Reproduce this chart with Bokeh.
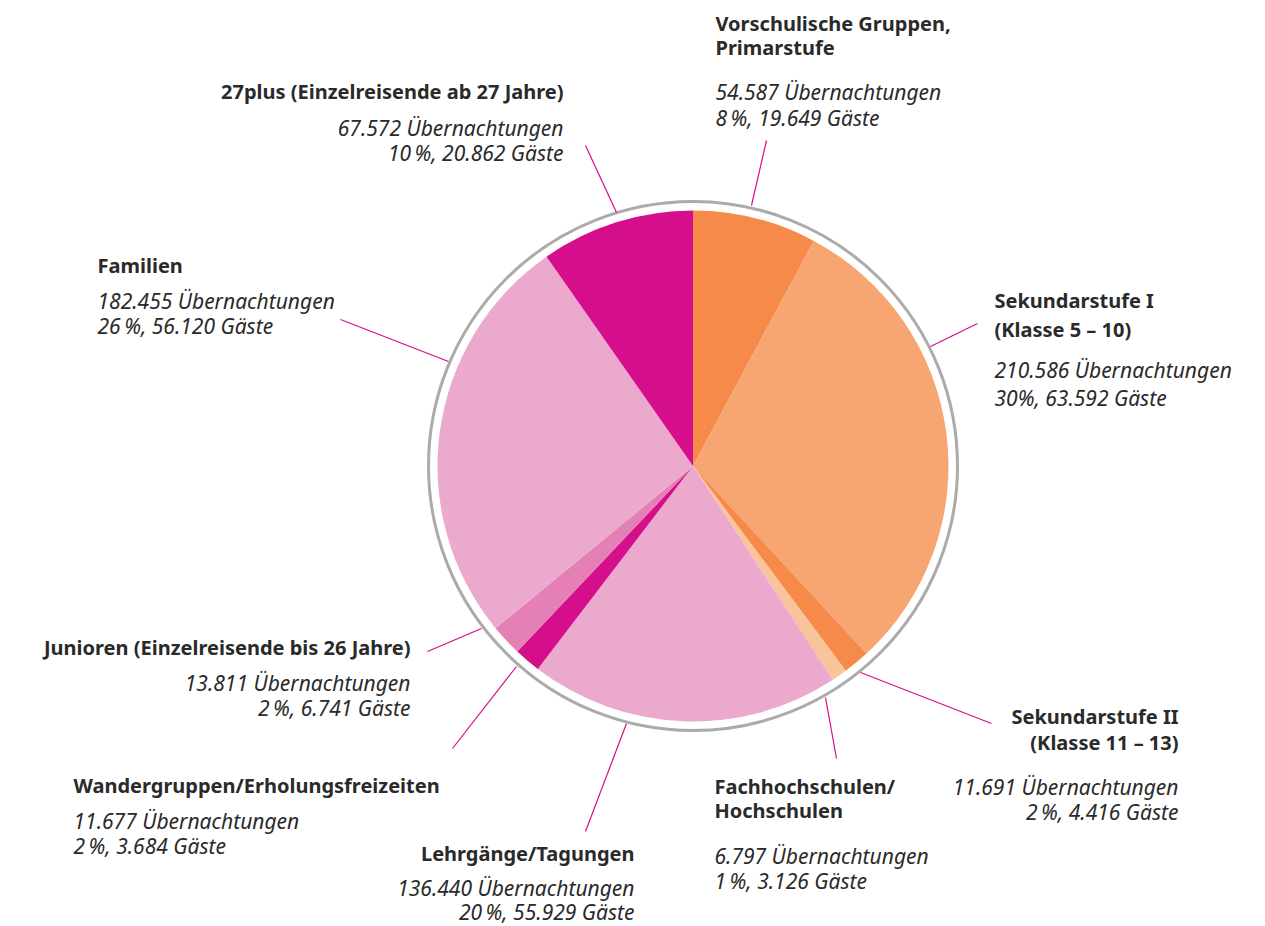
from bokeh.plotting import figure
from bokeh.models import Range1d
from bokeh.core.properties import value
from bokeh.embed import file_html
from bokeh.resources import INLINE
import math

# ---- data (clockwise from 12 o'clock) ----
names = ["Vorschulische Gruppen,\nPrimarstufe",
         "Sekundarstufe I\n(Klasse 5 \u2013 10)",
         "Sekundarstufe II\n(Klasse 11 \u2013 13)",
         "Fachhochschulen/\nHochschulen",
         "Lehrg\u00e4nge/Tagungen",
         "Wandergruppen/Erholungsfreizeiten",
         "Junioren (Einzelreisende bis 26 Jahre)",
         "Familien",
         "27plus (Einzelreisende ab 27 Jahre)"]
nights = [54587, 210586, 11691, 6797, 136440, 11677, 13811, 182455, 67572]
percent_labels = ["8\u2009%", "30%", "2\u2009%", "1\u2009%", "20\u2009%", "2\u2009%", "2\u2009%", "26\u2009%", "10\u2009%"]
guests = [19649, 63592, 4416, 3126, 55929, 3684, 6741, 56120, 20862]

# ---- styling / layout (pixel coordinates, y from top) ----
colors = ["#F58A4A", "#F7A571", "#F58A4A", "#F9C39C", "#EBAACD",
          "#D50E8C", "#E480B5", "#EBAACD", "#D50E8C"]
W, H = 1265, 926
CX, CY, R, RING_R = 692.5, 465.5, 255.5, 264.5
# label anchors: (x, align, [bold line centres], [italic line centres])
label_layout = [
    (715, "left", [23, 47], [91, 117]),
    (994, "left", [300, 329], [369, 397]),
    (1178, "right", [716, 742], [786, 811]),
    (714, "left", [786, 810], [855, 880]),
    (634, "right", [853], [887, 911]),
    (73, "left", [785], [820, 845]),
    (410, "right", [647], [682, 707]),
    (97, "left", [265], [300, 325]),
    (563, "right", [91], [127, 152]),
]
leaders = [
    ((751, 205), (766, 140)),
    ((930, 346), (977, 323)),
    ((860, 672), (991, 723)),
    ((825, 697), (836, 758)),
    ((626, 723), (585, 831)),
    ((516, 666), (452, 748)),
    ((481, 628), (427, 651)),
    ((448, 361), (340, 319)),
    ((616, 212), (585, 145)),
]

def fy(py):
    return H - py

def de(n):
    return f"{n:,}".replace(",", ".")

p = figure(width=W, height=H, output_backend="svg", toolbar_location=None,
           x_range=Range1d(0, W), y_range=Range1d(0, H), min_border=0)
p.axis.visible = False
p.grid.visible = False
p.outline_line_color = None

total = sum(nights)
cum = 0.0
starts, ends = [], []
for n in nights:
    starts.append(math.pi / 2 - cum / total * 2 * math.pi)
    cum += n
    ends.append(math.pi / 2 - cum / total * 2 * math.pi)

p.wedge(x=[CX] * len(nights), y=[fy(CY)] * len(nights), radius=R,
        start_angle=starts, end_angle=ends, direction="clock",
        fill_color=colors, line_color=None)

p.circle(x=[CX], y=[fy(CY)], radius=RING_R, fill_color=None,
         line_color="#ABABAB", line_width=3)

p.segment(x0=[a[0] for a, b in leaders], y0=[fy(a[1]) for a, b in leaders],
          x1=[b[0] for a, b in leaders], y1=[fy(b[1]) for a, b in leaders],
          line_color="#D50E8C", line_width=1.2)

font = "Noto Sans"
for i, (x, align, bys, iys) in enumerate(label_layout):
    blines = names[i].split("\n")
    p.text(x=[x] * len(blines), y=[fy(v) for v in bys], text=blines,
           text_font=value(font), text_font_style="bold", text_font_size="20px",
           text_color="#2A2A2A", text_align=align, text_baseline="middle")
    ilines = [f"{de(nights[i])} \u00dcbernachtungen",
              f"{percent_labels[i]}, {de(guests[i])} G\u00e4ste"]
    p.text(x=[x] * 2, y=[fy(v) for v in iys], text=ilines,
           text_font=value(font), text_font_style="italic", text_font_size="21px",
           text_color="#2A2A2A", text_align=align, text_baseline="middle")

open("out.html", "w").write(file_html(p, INLINE))
